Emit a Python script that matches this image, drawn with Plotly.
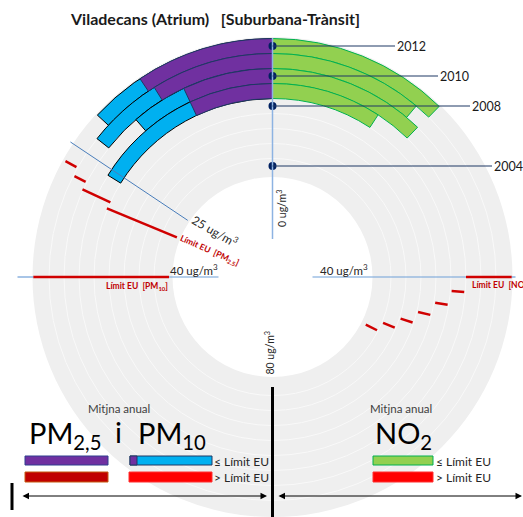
import math
import plotly.graph_objects as go

# ---- data ----
years = [2012, 2011, 2010, 2009]
pm25 = [15.0, 14.2, 11.2, 11.2]
pm10 = [21.0, 23.0, 18.2, 25.9]
no2 = [19.7, 17.8, 19.6, 14.7]

limit_years = [2004, 2005, 2006, 2007, 2008, 2009, 2010, 2011, 2012]
limit_pm25 = [30, 30, 30, 30, 30, 29, 29, 28, 27]
limit_pm10 = [40, 40, 40, 40, 40, 40, 40, 40, 40]
limit_no2 = [52, 50, 48, 46, 44, 42, 40, 40, 40]

label_years = [2012, 2010, 2008, 2004]

# ---- geometry of the page / polar scale ----
W, H = 523, 517
CX, CY = 272.5, 277.0
R_OUT, R_IN = 240.0, 100.0
R0, R1 = 2003.267, 2012.6
DEG = 180 / 80  # degrees per ug/m3
FONT = "Lato"
NAVY = "#1f3864"


def rpx(year):
    return R_IN + (year - R0) / (R1 - R0) * (R_OUT - R_IN)


def xy(ug, r, side=1):
    a = math.radians(side * ug * DEG)
    return (CX + r * math.sin(a)) / W, 1 - (CY - r * math.cos(a)) / H


def px(x, y):
    return x / W, 1 - y / H


def ring(vals, side, color, edge):
    return go.Barpolar(
        r=[1] * len(years), base=[y - 0.5 for y in years],
        theta=[side * v * DEG / 2 for v in vals], width=[v * DEG for v in vals],
        marker=dict(color=color, line=dict(color=edge, width=1)),
        hoverinfo="skip", showlegend=False,
    )


def limit_runs(lims):
    runs = []
    i = 0
    while i < len(limit_years):
        j = i
        while j + 1 < len(limit_years) and lims[j + 1] == lims[i]:
            j += 1
        if j > i:
            lo, hi = limit_years[i] - 0.5, limit_years[j] + 0.55
        else:
            lo, hi = limit_years[i] - 0.42, limit_years[i] + 0.42
        runs.append((max(lo, R0), min(hi, R1), lims[i]))
        i = j + 1
    return runs


def limit_trace(lims, side):
    r, th = [], []
    for lo, hi, v in limit_runs(lims):
        r += [lo, hi, None]
        th += [side * v * DEG] * 2 + [None]
    return go.Scatterpolar(r=r, theta=th, mode="lines", line=dict(color="#d00000", width=2.5),
                           hoverinfo="skip", showlegend=False, cliponaxis=False)


fig = go.Figure()
fig.add_trace(ring(no2, 1, "#92d050", "#00b050"))
fig.add_trace(ring(pm10, -1, "#00b0f0", "#000000"))
fig.add_trace(ring(pm25, -1, "#7030a0", NAVY))
fig.add_trace(limit_trace(limit_pm25, -1))
fig.add_trace(limit_trace(limit_pm10, -1))
fig.add_trace(limit_trace(limit_no2, 1))

shapes = []


def seg(p0, p1, color, width):
    shapes.append(dict(type="line", xref="paper", yref="paper", x0=p0[0], y0=p0[1],
                       x1=p1[0], y1=p1[1], line=dict(color=color, width=width), layer="above"))


def ref_line(ug, side, r_a, r_b, color, width, lims=None):
    """Reference line at a given concentration, leaving gaps where a red limit run lies on it."""
    cuts = []
    if lims is not None:
        cuts = [(rpx(lo), rpx(hi)) for lo, hi, v in limit_runs(lims) if v == ug]
    start = r_a
    for c0, c1 in sorted(cuts):
        if c0 > start:
            seg(xy(ug, start, side), xy(ug, c0, side), color, width)
        start = max(start, c1)
    if start < r_b:
        seg(xy(ug, start, side), xy(ug, r_b, side), color, width)


# reference axes lines
ref_line(0, 1, 38, 239, "#8db3e2", 1.5)
ref_line(25, -1, 102, 243, "#4a7ebb", 1)
ref_line(40, -1, 54, 255, "#6f9fd8", 1.2, limit_pm10)
ref_line(40, 1, 40, 243, "#6f9fd8", 1.2, limit_no2)
ref_line(80, 1, 110, 241, "#000000", 3)

# year leader lines
label_x = [395, 438, 470, 492]
for yr, xe in zip(label_years, label_x):
    p0 = xy(0, rpx(yr))
    seg(p0, (xe / W, p0[1]), NAVY, 1.2)

# short black bar bottom-left
seg(px(12, 483), px(12, 510), "#000000", 3)


def rect(x0, y0, x1, y1, fill, edge):
    a, b = px(x0, y0), px(x1, y1)
    shapes.append(dict(type="rect", xref="paper", yref="paper", x0=a[0], y0=a[1], x1=b[0], y1=b[1],
                       fillcolor=fill, line=dict(color=edge, width=1), layer="above"))


rect(25, 456, 108, 465, "#7030a0", "#2f3f8f")
rect(25, 472, 108, 482, "#c00000", "#c55a11")
rect(130, 456, 212, 465, "#00b0f0", NAVY)
rect(130, 456, 137, 465, "#7030a0", NAVY)
rect(129, 472, 212, 482, "#ff0000", "#ff3030")
rect(373, 456, 433, 465, "#92d050", "#00b050")
rect(373, 472, 433, 482, "#ff0000", "#ff3030")

# dots on the year axis
fig.add_trace(go.Scatterpolar(r=label_years, theta=[0] * len(label_years), mode="markers",
                              marker=dict(color="#002060", size=8), hoverinfo="skip",
                              showlegend=False, cliponaxis=False))

ann = []


def txt(x, y, s, size=11, color="#262626", angle=0, xa="center"):
    p = px(x, y)
    ann.append(dict(x=p[0], y=p[1], xref="paper", yref="paper", text=s, showarrow=False,
                    font=dict(family=FONT, size=size, color=color), textangle=angle,
                    xanchor=xa, yanchor="middle"))


NB = "\u00a0"
txt(215, 18, "<b>Viladecans (Atrium)" + NB * 3 + "[Suburbana-Trànsit]</b>", 16, "#1a1a1a")
for yr, xe in zip(label_years, label_x):
    txt(xe, (1 - xy(0, rpx(yr))[1]) * H, str(yr), 12.5, "#1a1a1a", xa="left")

txt(194, 269, "40 ug/m<sup>3</sup>", 11.5)
txt(344, 269, "40 ug/m<sup>3</sup>", 11.5)
txt(215, 231, "25 ug/m<sup>3</sup>", 12, angle=30)
txt(281, 209, "0 ug/m<sup>3</sup>", 10.5, angle=-90)
txt(268.5, 353, "80 ug/m<sup>3</sup>", 10.5, angle=-90)
txt(209, 250, "<b>Límit EU" + NB * 2 + "[PM<sub>2.5</sub>]</b>", 8.5, "#c00000", angle=24)
txt(104, 286, "<b>Límit EU" + NB * 2 + "[PM<sub>10</sub>]</b>", 8.5, "#c00000", xa="left")
txt(470, 285, "<b>Límit EU" + NB * 2 + "[NO<sub>2</sub>]</b>", 8.5, "#c00000", xa="left")

txt(119, 408, "Mitjna anual", 11.5, "#404040")
txt(401, 408, "Mitjna anual", 11.5, "#404040")
txt(27, 434, "PM<sub>2,5</sub>", 29, "#000000", xa="left")
txt(113, 431, "i", 29, "#000000", xa="left")
txt(136, 434, "PM<sub>10</sub>", 29, "#000000", xa="left")
txt(373, 434, "NO<sub>2</sub>", 29, "#000000", xa="left")
txt(212, 461, "≤ Límit EU", 12, xa="left")
txt(212, 477, "> Límit EU", 12, xa="left")
txt(434, 461, "≤ Límit EU", 12, xa="left")
txt(434, 477, "> Límit EU", 12, xa="left")

# double headed arrows
for x0, x1 in [(21, 267), (277, 522)]:
    p = px(x1, 496)
    ann.append(dict(x=p[0], y=p[1], xref="paper", yref="paper", text="", showarrow=True,
                    ax=-(x1 - x0), ay=0, arrowside="end+start", arrowhead=2, arrowsize=1.3,
                    arrowwidth=1, arrowcolor="#000000", standoff=0, startstandoff=0))

fig.update_layout(
    width=W, height=H, margin=dict(l=0, r=0, t=0, b=0),
    paper_bgcolor="white", plot_bgcolor="white", showlegend=False,
    polar=dict(
        domain=dict(x=[(CX - R_OUT) / W, (CX + R_OUT) / W], y=[1 - (CY + R_OUT) / H, 1 - (CY - R_OUT) / H]),
        hole=R_IN / R_OUT, bgcolor="#efefef", barmode="overlay",
        radialaxis=dict(range=[R0, R1], showticklabels=False, ticks="", showline=False,
                        tickvals=[y + 0.5 for y in range(2004, 2012)], gridcolor="#f9f9f9", gridwidth=1),
        angularaxis=dict(rotation=90, direction="clockwise", showticklabels=False, ticks="",
                         showline=False, showgrid=False),
    ),
    shapes=shapes, annotations=ann,
)

fig.write_html("out.html", config={"displayModeBar": False},
               post_script="document.body.style.margin='0px';")
